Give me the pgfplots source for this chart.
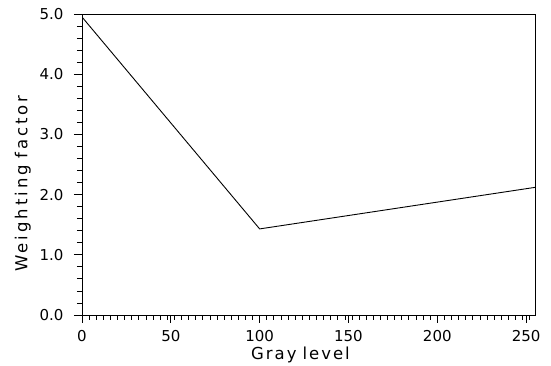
\documentclass[border=0pt]{standalone}
\usepackage{pgfplots}
\pgfplotsset{compat=1.18}
\usepackage{fontspec}
\setmainfont{DejaVu Sans}
\newfontfamily\xlabfont[LetterSpace=12]{DejaVu Sans}
\newfontfamily\ylabfont[LetterSpace=18]{DejaVu Sans}
\begin{document}
\begin{tikzpicture}
\path[use as bounding box] (0,0) rectangle (551pt,366pt);
\begin{axis}[
  at={(82pt,51pt)}, anchor=south west,
  scale only axis, width=453pt, height=301pt,
  xmin=0, xmax=255, ymin=0, ymax=5,
  axis line style={line width=0.9pt},
  xtick={0,50,100,150,200,250},
  minor xtick={4,8,...,252},
  ytick={0,1,2,3,4,5},
  minor ytick={0.2,0.4,...,4.8},
  yticklabel style={xshift=-7pt},
  y tick label style={/pgf/number format/.cd,fixed,fixed zerofill,precision=1},
  /pgf/number format/assume math mode=true,
  tick align=outside,
  xtick pos=bottom, ytick pos=left,
  major tick length=8pt, minor tick length=5pt,
  tick style={black, line width=0.8pt},
  ticklabel style={font=\fontsize{15}{17}\selectfont},
  xticklabel style={yshift=-4pt},
  xlabel={Gray\hspace{6pt}level}, ylabel={Weighting\hspace{6pt}factor},
  xlabel style={font=\xlabfont\fontsize{16.5}{18}\selectfont, yshift=2pt, xshift=-8pt},
  ylabel style={font=\ylabfont\fontsize{16.5}{18}\selectfont, yshift=2pt, xshift=-19pt},
]
\addplot[black, line width=0.9pt] coordinates {(0,4.95) (100,1.43) (255,2.12)};
\end{axis}
\end{tikzpicture}
\end{document}
